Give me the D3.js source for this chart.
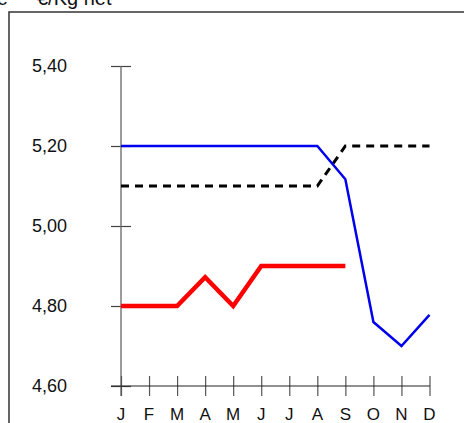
<!DOCTYPE html>
<html><head><meta charset="utf-8">
<script src="https://cdn.jsdelivr.net/npm/d3@7"></script>
<style>body{margin:0;background:#fff}svg{display:block}
svg text.lbl{font-family:"Liberation Sans",Arial,sans-serif;fill:#111}
svg text.ylbl{font-size:18px}
svg text.xlbl{font-size:17px}
svg text.ttl{font-size:20px}
</style>
</head><body>
<svg id="c" width="464" height="423" viewBox="0 0 464 423"></svg>
<script>
const months = ["J","F","M","A","M","J","J","A","S","O","N","D"];
const yTicks = [4.60, 4.80, 5.00, 5.20, 5.40];
const blueSeries = [5.20,5.20,5.20,5.20,5.20,5.20,5.20,5.20,5.117,4.76,4.70,4.778];
const dashedSeries = [5.10,5.10,5.10,5.10,5.10,5.10,5.10,5.10,5.20,5.20,5.20,5.20];
const redSeries = [4.80,4.80,4.80,4.872,4.80,4.90,4.90,4.90,4.90];
const titleLeft = "Prix de vente";
const titleText = "€/Kg net";

const svg = d3.select("#c");
const x = d3.scalePoint().domain(d3.range(12)).range([121, 429.5]);
const y = d3.scaleLinear().domain([4.60, 5.40]).range([386, 66]);
const fmt = d => d3.format(".2f")(d).replace(".", ",");

// frame
svg.append("rect").attr("x",9).attr("y",12).attr("width",480).attr("height",440)
  .attr("fill","none").attr("stroke","#333").attr("stroke-width",1.5);
// title (cut off at top edge, as in reference)
svg.append("text").attr("class","lbl ttl").attr("x",8).attr("y",4.5).attr("text-anchor","end").text(titleLeft);
svg.append("text").attr("class","lbl ttl").attr("x",37).attr("y",4.5).text(titleText);

// y axis
const gy = svg.append("g").attr("transform","translate(121,0)")
  .call(d3.axisLeft(y).tickValues(yTicks).tickSize(0).tickFormat(""));
gy.select(".domain").remove();
gy.selectAll(".tick").append("line").attr("x1",-10).attr("x2",10).attr("stroke","#444").attr("stroke-width",1.2);
svg.append("line").attr("x1",121).attr("x2",121).attr("y1",66).attr("y2",396).attr("stroke","#666").attr("stroke-width",1.3);
svg.append("g").selectAll("text").data(yTicks).join("text")
  .attr("class","lbl ylbl").attr("x",67).attr("y",d=>y(d)).attr("dy","0.36em")
  .attr("text-anchor","end").text(fmt);

// x axis
const gx = svg.append("g").attr("transform","translate(0,386)")
  .call(d3.axisBottom(x).tickSize(0).tickFormat(""));
gx.select(".domain").remove();
gx.selectAll(".tick").append("line").attr("y1",-10).attr("y2",10).attr("stroke","#555").attr("stroke-width",1.2);
svg.append("line").attr("x1",111).attr("x2",430).attr("y1",386).attr("y2",386).attr("stroke","#222").attr("stroke-width",1.2);
svg.append("g").selectAll("text").data(months).join("text")
  .attr("class","lbl xlbl").attr("x",(d,i)=>x(i)).attr("y",420).attr("text-anchor","middle").text(d=>d);

// series
const line = d3.line().x((d,i)=>x(i)).y(d=>y(d));
svg.append("path").datum(dashedSeries).attr("d",line).attr("fill","none")
  .attr("stroke","#000").attr("stroke-width",3).attr("stroke-dasharray","8,6");
svg.append("path").datum(blueSeries).attr("d",line).attr("fill","none")
  .attr("stroke","#0000ee").attr("stroke-width",2.5);
svg.append("path").datum(redSeries).attr("d",line).attr("fill","none")
  .attr("stroke","#ff0000").attr("stroke-width",4.5);
</script>
</body></html>
